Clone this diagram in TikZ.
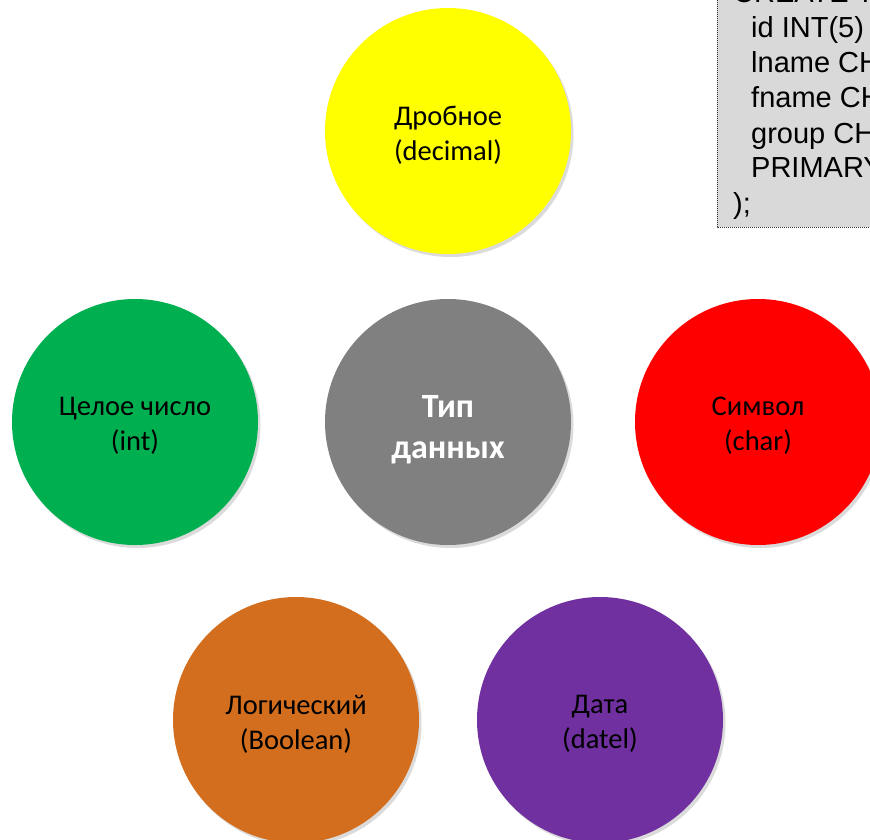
\documentclass[tikz,border=0pt]{standalone}
\usepackage{fontspec}
\setmainfont{Carlito}
\newfontfamily\codefont{Liberation Sans}
\definecolor{cyellow}{HTML}{FFFF00}
\definecolor{cgreen}{HTML}{00B050}
\definecolor{cred}{HTML}{FF0000}
\definecolor{cgray}{HTML}{808080}
\definecolor{corange}{HTML}{D26E1E}
\definecolor{cpurple}{HTML}{7030A0}
\definecolor{cbox}{HTML}{D9D9D9}
\begin{document}
\begin{tikzpicture}[x=1pt,y=-1pt,
  bubble/.style={circle, minimum size=246pt, inner sep=0pt},
  bubbletext/.style={inner sep=0pt, align=center,
    font=\fontsize{28.5}{35}\selectfont},
  bubbleshadow/.style={circle, minimum size=246pt, inner sep=0pt, fill=black!14},
  codeline/.style={anchor=base west, inner sep=0pt,
    font=\codefont\fontsize{29}{35}\selectfont}]
\useasboundingbox (0,0) rectangle (870,840);
\clip (0,0) rectangle (870,840);

% code box
\path[fill=cbox, draw=black!80, line width=0.9pt, dash pattern=on 1pt off 1pt]
  (717,-10) rectangle (890,227);
\node[codeline] (c0) at (733,3) {CREATE T};
\node[codeline] (c1) at (751,38) {id INT(5)};
\node[codeline] (c2) at (751,73) {lname CH};
\node[codeline] (c3) at (751,108) {fname CH};
\node[codeline] (c4) at (751,143) {group CH};
\node[codeline] (c5) at (751,178) {PRIMARY};
\node[codeline] (c6) at (733,213) {);};

% shadows
\foreach \cx/\cy in {448/131, 135/422, 448/422, 758/422, 296/720, 600/720}
  \node[bubbleshadow] at (\cx+2.5,\cy+3) {};

% circles
\node[bubble, fill=cyellow] (dec) at (448,131) {};
\node[bubble, fill=cgreen] (int) at (135,422) {};
\node[bubble, fill=cgray] (type) at (448,422) {};
\node[bubble, fill=cred] (chr) at (758,422) {};
\node[bubble, fill=corange] (bool) at (296,720) {};
\node[bubble, fill=cpurple] (date) at (600,720) {};

% texts
\node[bubbletext] (decT) at ([yshift=-4pt]dec.center) {Дробное\\(decimal)};
\node[bubbletext] (intT) at ([yshift=-4pt]int.center) {Целое число\\(int)};
\node[bubbletext, text=white, font=\bfseries\fontsize{34}{41}\selectfont]
  (typeT) at ([yshift=-8pt]type.center) {Тип\\данных};
\node[bubbletext] (chrT) at ([yshift=-4pt]chr.center) {Символ\\(char)};
\node[bubbletext] (boolT) at ([yshift=-4pt]bool.center) {Логический\\(Boolean)};
\node[bubbletext] (dateT) at ([yshift=-4pt]date.center) {Дата\\(datel)};
\end{tikzpicture}
\end{document}
